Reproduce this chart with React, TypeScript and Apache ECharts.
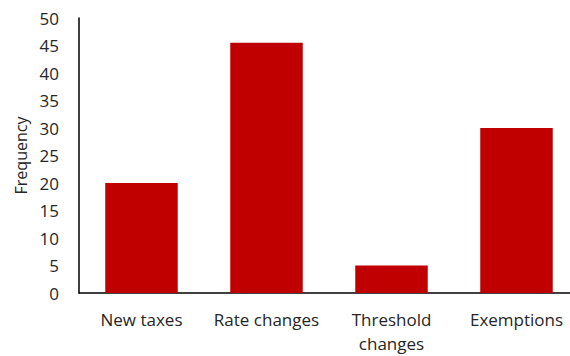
import React, { useEffect, useRef } from "react";
import * as echarts from "echarts";

const categories = ["New taxes", "Rate changes", "Threshold\nchanges", "Exemptions"];
const frequencies = [20, 45.5, 5, 30];
const yAxisName = "Frequency";

export default function App() {
  const ref = useRef<HTMLDivElement>(null);
  useEffect(() => {
    if (!ref.current) return;
    const chart = echarts.init(ref.current, undefined, { renderer: "svg" });
    chart.setOption({
      animation: false,
      backgroundColor: "#ffffff",
      textStyle: { fontFamily: "Open Sans" },
      grid: { left: 79, right: 1, top: 18, bottom: 63 },
      xAxis: {
        type: "category",
        data: categories,
        axisLine: { lineStyle: { color: "#000", width: 1.5 } },
        axisTick: { show: false },
        axisLabel: { color: "#262626", fontSize: 17, margin: 14, lineHeight: 24, interval: 0 },
      },
      yAxis: {
        type: "value",
        min: 0,
        max: 50,
        interval: 5,
        name: yAxisName,
        nameLocation: "middle",
        nameGap: 50,
        nameTextStyle: { color: "#262626", fontSize: 16 },
        axisLine: { show: true, lineStyle: { color: "#000", width: 1.5 } },
        axisTick: { show: false },
        splitLine: { show: false },
        axisLabel: { color: "#262626", fontSize: 17, margin: 20 },
      },
      series: [
        {
          type: "bar",
          data: frequencies,
          barWidth: "58%",
          itemStyle: { color: "#C00000" },
        },
      ],
    });
    return () => chart.dispose();
  }, []);
  return (
    <div style={{ width: 570, height: 356, position: "absolute", left: 0, top: 0, overflow: "hidden" }}>
      <div ref={ref} style={{ width: 580, height: 356 }} />
    </div>
  );
}
